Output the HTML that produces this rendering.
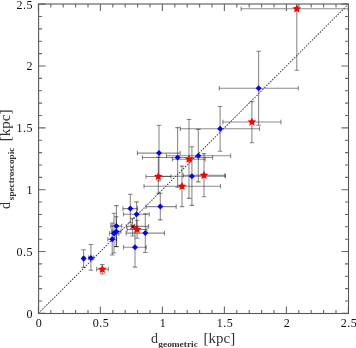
<!DOCTYPE html>
<html><head><meta charset="utf-8"><style>html,body{margin:0;padding:0;background:#fff;width:356px;height:348px;overflow:hidden}svg{display:block;will-change:transform}</style></head>
<body>
<svg width="356" height="348" viewBox="0 0 356 348">
<rect width="356" height="348" fill="#fff"/>
<defs><clipPath id="c"><rect x="38.6" y="4" width="309.9" height="309.5"/></clipPath></defs>
<path d="M130.6 224.4l4.4 4.4M135.0 224.4l-4.4 4.4" stroke="#f00" stroke-width="1.4"/>
<g clip-path="url(#c)"><g stroke="#000" stroke-opacity="0.45" stroke-width="1.1" fill="none">
<path d="M241.1 8.8H352.5"/>
<path d="M296.8 -52.6V70.2"/>
<path d="M241.1 6.5v4.6"/>
<path d="M352.5 6.5v4.6"/>
<path d="M294.5 -52.6h4.6"/>
<path d="M294.5 70.2h4.6"/>
<path d="M219.3 88.2H298.3"/>
<path d="M258.6 51.2V125.3"/>
<path d="M219.3 85.9v4.6"/>
<path d="M298.3 85.9v4.6"/>
<path d="M256.3 51.2h4.6"/>
<path d="M256.3 125.3h4.6"/>
<path d="M222.9 122.0H281.0"/>
<path d="M251.9 101.6V142.7"/>
<path d="M222.9 119.7v4.6"/>
<path d="M281.0 119.7v4.6"/>
<path d="M249.6 101.6h4.6"/>
<path d="M249.6 142.7h4.6"/>
<path d="M180.4 128.7H259.5"/>
<path d="M220.1 106.5V151.2"/>
<path d="M180.4 126.4v4.6"/>
<path d="M259.5 126.4v4.6"/>
<path d="M217.8 106.5h4.6"/>
<path d="M217.8 151.2h4.6"/>
<path d="M166.4 155.7H230.6"/>
<path d="M198.3 129.4V181.9"/>
<path d="M166.4 153.4v4.6"/>
<path d="M230.6 153.4v4.6"/>
<path d="M196.0 129.4h4.6"/>
<path d="M196.0 181.9h4.6"/>
<path d="M172.4 159.2H205.2"/>
<path d="M189.0 119.5V198.4"/>
<path d="M172.4 156.9v4.6"/>
<path d="M205.2 156.9v4.6"/>
<path d="M186.7 119.5h4.6"/>
<path d="M186.7 198.4h4.6"/>
<path d="M142.5 157.5H212.6"/>
<path d="M177.6 127.6V187.2"/>
<path d="M142.5 155.2v4.6"/>
<path d="M212.6 155.2v4.6"/>
<path d="M175.3 127.6h4.6"/>
<path d="M175.3 187.2h4.6"/>
<path d="M137.4 153.1H180.2"/>
<path d="M159.0 125.2V181.0"/>
<path d="M137.4 150.8v4.6"/>
<path d="M180.2 150.8v4.6"/>
<path d="M156.7 125.2h4.6"/>
<path d="M156.7 181.0h4.6"/>
<path d="M158.4 176.2H225.4"/>
<path d="M191.9 146.8V205.4"/>
<path d="M158.4 173.9v4.6"/>
<path d="M225.4 173.9v4.6"/>
<path d="M189.6 146.8h4.6"/>
<path d="M189.6 205.4h4.6"/>
<path d="M183.3 175.3H224.9"/>
<path d="M204.0 153.6V196.8"/>
<path d="M183.3 173.0v4.6"/>
<path d="M224.9 173.0v4.6"/>
<path d="M201.7 153.6h4.6"/>
<path d="M201.7 196.8h4.6"/>
<path d="M144.0 186.3H220.5"/>
<path d="M182.0 166.1V206.6"/>
<path d="M144.0 184.0v4.6"/>
<path d="M220.5 184.0v4.6"/>
<path d="M179.7 166.1h4.6"/>
<path d="M179.7 206.6h4.6"/>
<path d="M146.0 176.5H171.0"/>
<path d="M158.3 157.0V193.2"/>
<path d="M146.0 174.2v4.6"/>
<path d="M171.0 174.2v4.6"/>
<path d="M156.0 157.0h4.6"/>
<path d="M156.0 193.2h4.6"/>
<path d="M146.0 206.6H176.2"/>
<path d="M160.3 193.3V219.9"/>
<path d="M146.0 204.3v4.6"/>
<path d="M176.2 204.3v4.6"/>
<path d="M158.0 193.3h4.6"/>
<path d="M158.0 219.9h4.6"/>
<path d="M122.9 208.6H137.5"/>
<path d="M130.3 194.3V222.9"/>
<path d="M122.9 206.3v4.6"/>
<path d="M137.5 206.3v4.6"/>
<path d="M128.0 194.3h4.6"/>
<path d="M128.0 222.9h4.6"/>
<path d="M123.5 214.3H149.2"/>
<path d="M136.6 201.9V226.7"/>
<path d="M123.5 212.0v4.6"/>
<path d="M149.2 212.0v4.6"/>
<path d="M134.3 201.9h4.6"/>
<path d="M134.3 226.7h4.6"/>
<path d="M110.8 226.1H121.8"/>
<path d="M116.4 205.6V246.6"/>
<path d="M110.8 223.8v4.6"/>
<path d="M121.8 223.8v4.6"/>
<path d="M114.1 205.6h4.6"/>
<path d="M114.1 246.6h4.6"/>
<path d="M109.6 233.4H119.0"/>
<path d="M114.0 213.3V253.0"/>
<path d="M109.6 231.1v4.6"/>
<path d="M119.0 231.1v4.6"/>
<path d="M111.7 213.3h4.6"/>
<path d="M111.7 253.0h4.6"/>
<path d="M111.8 231.4H121.0"/>
<path d="M116.3 216.8V246.5"/>
<path d="M111.8 229.1v4.6"/>
<path d="M121.0 229.1v4.6"/>
<path d="M114.0 216.8h4.6"/>
<path d="M114.0 246.5h4.6"/>
<path d="M107.8 239.3H116.6"/>
<path d="M112.2 223.0V255.0"/>
<path d="M107.8 237.0v4.6"/>
<path d="M116.6 237.0v4.6"/>
<path d="M109.9 223.0h4.6"/>
<path d="M109.9 255.0h4.6"/>
<path d="M127.2 229.5H147.0"/>
<path d="M137.1 220.3V238.3"/>
<path d="M127.2 227.2v4.6"/>
<path d="M147.0 227.2v4.6"/>
<path d="M134.8 220.3h4.6"/>
<path d="M134.8 238.3h4.6"/>
<path d="M126.5 226.4H148.6"/>
<path d="M132.6 218.4V236.0"/>
<path d="M126.5 224.1v4.6"/>
<path d="M148.6 224.1v4.6"/>
<path d="M130.3 218.4h4.6"/>
<path d="M130.3 236.0h4.6"/>
<path d="M126.1 233.1H164.5"/>
<path d="M145.3 213.8V252.5"/>
<path d="M126.1 230.8v4.6"/>
<path d="M164.5 230.8v4.6"/>
<path d="M143.0 213.8h4.6"/>
<path d="M143.0 252.5h4.6"/>
<path d="M123.6 247.2H146.2"/>
<path d="M135.0 227.3V267.1"/>
<path d="M123.6 244.9v4.6"/>
<path d="M146.2 244.9v4.6"/>
<path d="M132.7 227.3h4.6"/>
<path d="M132.7 267.1h4.6"/>
<path d="M82.6 258.4H84.6"/>
<path d="M83.6 249.8V267.4"/>
<path d="M82.6 256.1v4.6"/>
<path d="M84.6 256.1v4.6"/>
<path d="M81.3 249.8h4.6"/>
<path d="M81.3 267.4h4.6"/>
<path d="M88.6 257.9H93.6"/>
<path d="M90.9 244.5V270.2"/>
<path d="M88.6 255.6v4.6"/>
<path d="M93.6 255.6v4.6"/>
<path d="M88.6 244.5h4.6"/>
<path d="M88.6 270.2h4.6"/>
<path d="M96.6 269.3H108.3"/>
<path d="M102.3 264.5V274.0"/>
<path d="M96.6 267.0v4.6"/>
<path d="M108.3 267.0v4.6"/>
<path d="M100.0 264.5h4.6"/>
<path d="M100.0 274.0h4.6"/>
</g>
<path d="M38.4 313.4L348.4 4.1" stroke="#4a4a4a" stroke-width="1.1" stroke-dasharray="1.5 1.3" fill="none"/>
<polygon points="296.80,4.20 298.03,7.10 301.17,7.38 298.80,9.45 299.50,12.52 296.80,10.90 294.10,12.52 294.80,9.45 292.43,7.38 295.57,7.10" fill="#f00"/>
<polygon points="258.60,85.20 261.60,88.20 258.60,91.20 255.60,88.20" fill="#00f"/>
<polygon points="251.90,117.40 253.13,120.30 256.27,120.58 253.90,122.65 254.60,125.72 251.90,124.10 249.20,125.72 249.90,122.65 247.53,120.58 250.67,120.30" fill="#f00"/>
<polygon points="220.10,125.70 223.10,128.70 220.10,131.70 217.10,128.70" fill="#00f"/>
<polygon points="198.30,152.70 201.30,155.70 198.30,158.70 195.30,155.70" fill="#00f"/>
<polygon points="189.00,154.60 190.23,157.50 193.37,157.78 191.00,159.85 191.70,162.92 189.00,161.30 186.30,162.92 187.00,159.85 184.63,157.78 187.77,157.50" fill="#f00"/>
<polygon points="177.60,154.50 180.60,157.50 177.60,160.50 174.60,157.50" fill="#00f"/>
<polygon points="159.00,150.10 162.00,153.10 159.00,156.10 156.00,153.10" fill="#00f"/>
<polygon points="191.90,173.20 194.90,176.20 191.90,179.20 188.90,176.20" fill="#00f"/>
<polygon points="204.00,170.70 205.23,173.60 208.37,173.88 206.00,175.95 206.70,179.02 204.00,177.40 201.30,179.02 202.00,175.95 199.63,173.88 202.77,173.60" fill="#f00"/>
<polygon points="182.00,181.70 183.23,184.60 186.37,184.88 184.00,186.95 184.70,190.02 182.00,188.40 179.30,190.02 180.00,186.95 177.63,184.88 180.77,184.60" fill="#f00"/>
<polygon points="158.30,171.90 159.53,174.80 162.67,175.08 160.30,177.15 161.00,180.22 158.30,178.60 155.60,180.22 156.30,177.15 153.93,175.08 157.07,174.80" fill="#f00"/>
<polygon points="160.30,203.60 163.30,206.60 160.30,209.60 157.30,206.60" fill="#00f"/>
<polygon points="130.30,205.60 133.30,208.60 130.30,211.60 127.30,208.60" fill="#00f"/>
<polygon points="136.60,211.30 139.60,214.30 136.60,217.30 133.60,214.30" fill="#00f"/>
<polygon points="116.40,223.10 119.40,226.10 116.40,229.10 113.40,226.10" fill="#00f"/>
<polygon points="114.00,230.40 117.00,233.40 114.00,236.40 111.00,233.40" fill="#00f"/>
<polygon points="116.30,228.40 119.30,231.40 116.30,234.40 113.30,231.40" fill="#00f"/>
<polygon points="112.20,236.30 115.20,239.30 112.20,242.30 109.20,239.30" fill="#00f"/>
<polygon points="137.10,224.90 138.33,227.80 141.47,228.08 139.10,230.15 139.80,233.22 137.10,231.60 134.40,233.22 135.10,230.15 132.73,228.08 135.87,227.80" fill="#f00"/>
<polygon points="145.30,230.10 148.30,233.10 145.30,236.10 142.30,233.10" fill="#00f"/>
<polygon points="135.00,244.20 138.00,247.20 135.00,250.20 132.00,247.20" fill="#00f"/>
<polygon points="83.60,255.40 86.60,258.40 83.60,261.40 80.60,258.40" fill="#00f"/>
<polygon points="90.90,254.90 93.90,257.90 90.90,260.90 87.90,257.90" fill="#00f"/>
<polygon points="102.30,264.70 103.53,267.60 106.67,267.88 104.30,269.95 105.00,273.02 102.30,271.40 99.60,273.02 100.30,269.95 97.93,267.88 101.07,267.60" fill="#f00"/>
</g>
<path d="M38.40 313.5v-7M38.40 4.0v7M38.6 313.40h7M348.5 313.40h-7M50.80 313.5v-3.5M50.80 4.0v3.5M38.6 301.03h3.5M348.5 301.03h-3.5M63.20 313.5v-3.5M63.20 4.0v3.5M38.6 288.66h3.5M348.5 288.66h-3.5M75.60 313.5v-3.5M75.60 4.0v3.5M38.6 276.29h3.5M348.5 276.29h-3.5M88.00 313.5v-3.5M88.00 4.0v3.5M38.6 263.92h3.5M348.5 263.92h-3.5M100.40 313.5v-7M100.40 4.0v7M38.6 251.55h7M348.5 251.55h-7M112.80 313.5v-3.5M112.80 4.0v3.5M38.6 239.18h3.5M348.5 239.18h-3.5M125.20 313.5v-3.5M125.20 4.0v3.5M38.6 226.81h3.5M348.5 226.81h-3.5M137.60 313.5v-3.5M137.60 4.0v3.5M38.6 214.44h3.5M348.5 214.44h-3.5M150.00 313.5v-3.5M150.00 4.0v3.5M38.6 202.07h3.5M348.5 202.07h-3.5M162.40 313.5v-7M162.40 4.0v7M38.6 189.70h7M348.5 189.70h-7M174.80 313.5v-3.5M174.80 4.0v3.5M38.6 177.33h3.5M348.5 177.33h-3.5M187.20 313.5v-3.5M187.20 4.0v3.5M38.6 164.96h3.5M348.5 164.96h-3.5M199.60 313.5v-3.5M199.60 4.0v3.5M38.6 152.59h3.5M348.5 152.59h-3.5M212.00 313.5v-3.5M212.00 4.0v3.5M38.6 140.22h3.5M348.5 140.22h-3.5M224.40 313.5v-7M224.40 4.0v7M38.6 127.85h7M348.5 127.85h-7M236.80 313.5v-3.5M236.80 4.0v3.5M38.6 115.48h3.5M348.5 115.48h-3.5M249.20 313.5v-3.5M249.20 4.0v3.5M38.6 103.11h3.5M348.5 103.11h-3.5M261.60 313.5v-3.5M261.60 4.0v3.5M38.6 90.74h3.5M348.5 90.74h-3.5M274.00 313.5v-3.5M274.00 4.0v3.5M38.6 78.37h3.5M348.5 78.37h-3.5M286.40 313.5v-7M286.40 4.0v7M38.6 66.00h7M348.5 66.00h-7M298.80 313.5v-3.5M298.80 4.0v3.5M38.6 53.63h3.5M348.5 53.63h-3.5M311.20 313.5v-3.5M311.20 4.0v3.5M38.6 41.26h3.5M348.5 41.26h-3.5M323.60 313.5v-3.5M323.60 4.0v3.5M38.6 28.89h3.5M348.5 28.89h-3.5M336.00 313.5v-3.5M336.00 4.0v3.5M38.6 16.52h3.5M348.5 16.52h-3.5M348.40 313.5v-7M348.40 4.0v7M38.6 4.15h7M348.5 4.15h-7" stroke="#6a6a6a" stroke-width="1.1" fill="none"/>
<rect x="38.6" y="4.0" width="309.9" height="309.5" stroke="#585858" stroke-width="1.1" fill="none"/>
<text x="38.90" y="327.2" text-anchor="middle" style="font-family:&quot;Liberation Serif&quot;,serif;font-size:12px;letter-spacing:0.5px" fill="#111">0</text>
<text x="32.9" y="317.80" text-anchor="end" style="font-family:&quot;Liberation Serif&quot;,serif;font-size:12px;letter-spacing:0.5px" fill="#111">0</text>
<text x="100.90" y="327.2" text-anchor="middle" style="font-family:&quot;Liberation Serif&quot;,serif;font-size:12px;letter-spacing:0.5px" fill="#111">0.5</text>
<text x="32.9" y="255.95" text-anchor="end" style="font-family:&quot;Liberation Serif&quot;,serif;font-size:12px;letter-spacing:0.5px" fill="#111">0.5</text>
<text x="162.90" y="327.2" text-anchor="middle" style="font-family:&quot;Liberation Serif&quot;,serif;font-size:12px;letter-spacing:0.5px" fill="#111">1</text>
<text x="32.9" y="194.10" text-anchor="end" style="font-family:&quot;Liberation Serif&quot;,serif;font-size:12px;letter-spacing:0.5px" fill="#111">1</text>
<text x="224.90" y="327.2" text-anchor="middle" style="font-family:&quot;Liberation Serif&quot;,serif;font-size:12px;letter-spacing:0.5px" fill="#111">1.5</text>
<text x="32.9" y="132.25" text-anchor="end" style="font-family:&quot;Liberation Serif&quot;,serif;font-size:12px;letter-spacing:0.5px" fill="#111">1.5</text>
<text x="286.90" y="327.2" text-anchor="middle" style="font-family:&quot;Liberation Serif&quot;,serif;font-size:12px;letter-spacing:0.5px" fill="#111">2</text>
<text x="32.9" y="70.40" text-anchor="end" style="font-family:&quot;Liberation Serif&quot;,serif;font-size:12px;letter-spacing:0.5px" fill="#111">2</text>
<text x="348.90" y="327.2" text-anchor="middle" style="font-family:&quot;Liberation Serif&quot;,serif;font-size:12px;letter-spacing:0.5px" fill="#111">2.5</text>
<text x="32.9" y="8.55" text-anchor="end" style="font-family:&quot;Liberation Serif&quot;,serif;font-size:12px;letter-spacing:0.5px" fill="#111">2.5</text>
<text x="151" y="343" style="font-family:&quot;Liberation Serif&quot;,serif;font-size:14px" fill="#333">d</text>
<text x="158.3" y="346.8" textLength="39.5" lengthAdjust="spacingAndGlyphs" style="font-family:&quot;Liberation Serif&quot;,serif;font-size:8.6px;font-weight:bold" fill="#333">geometric</text>
<text x="203.6" y="343" textLength="31.6" lengthAdjust="spacingAndGlyphs" style="font-family:&quot;Liberation Serif&quot;,serif;font-size:14px" fill="#333">[kpc]</text>
<g transform="rotate(-90)">
<text x="-208.9" y="9.7" style="font-family:&quot;Liberation Serif&quot;,serif;font-size:14px" fill="#333">d</text>
<text x="-200.2" y="14.1" textLength="52.5" lengthAdjust="spacingAndGlyphs" style="font-family:&quot;Liberation Serif&quot;,serif;font-size:8.6px;font-weight:bold" fill="#333">spectroscopic</text>
<text x="-141.2" y="9.7" textLength="31.6" lengthAdjust="spacingAndGlyphs" style="font-family:&quot;Liberation Serif&quot;,serif;font-size:14px" fill="#333">[kpc]</text>
</g>
</svg>
</body></html>
